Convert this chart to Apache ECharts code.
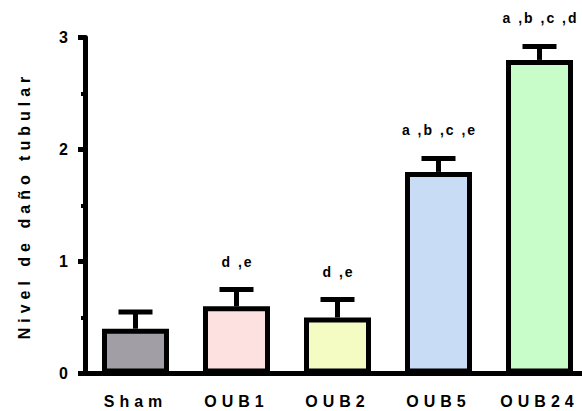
<!DOCTYPE html>
<html>
<head>
<meta charset="utf-8">
<script src="https://cdn.jsdelivr.net/npm/echarts@6/dist/echarts.min.js"></script>
<style>
  html, body { margin: 0; padding: 0; background: #fff; }
  #chart { width: 582px; height: 411px; }
  /* tracked lettering for axis name and group labels */
  #chart text[style*="Arial"] { letter-spacing: 5px; }
  #chart text[style*="Helvetica"] { letter-spacing: 2px; }
</style>
</head>
<body>
<div id="chart"></div>
<script>
// Tubular damage score per group (mean ± SEM)
const groups = ['Sham', 'OUB1', 'OUB2', 'OUB5', 'OUB24'];
const means = [0.40, 0.60, 0.50, 1.80, 2.80];
const sems = [0.15, 0.15, 0.16, 0.12, 0.12];
const letters = ['', 'd ,e', 'd ,e', 'a ,b ,c ,e', 'a ,b ,c ,d'];
const fills = ['#a19fa5', '#fde0e0', '#f4fcc4', '#c8dcf5', '#c8fcc8'];
const yTicks = [0, 1, 2, 3];

const chart = echarts.init(document.getElementById('chart'), null, { renderer: 'svg' });

const barData = means.map((v, i) => ({ value: v, itemStyle: { color: fills[i] } }));
const errData = means.map((v, i) => [i, v, sems[i], letters[i]]);

chart.setOption({
  animation: false,
  backgroundColor: '#fff',
  grid: { left: 85, top: 37.5, width: 505, height: 336, containLabel: false, outerBoundsMode: 'none' },
  xAxis: {
    type: 'category',
    data: groups,
    axisLine: { lineStyle: { color: '#000', width: 5 } },
    axisTick: { show: false },
    axisLabel: {
      color: '#000', fontWeight: 'bold', fontSize: 16,
      fontFamily: 'Liberation Sans, Arial', margin: 20
    }
  },
  yAxis: {
    type: 'value',
    min: yTicks[0], max: yTicks[yTicks.length - 1], interval: 1,
    name: 'Nivel de daño tubular',
    nameLocation: 'middle',
    nameGap: 53,
    nameTextStyle: { color: '#000', fontWeight: 'bold', fontSize: 16, fontFamily: 'Liberation Sans, Arial' },
    axisLine: { show: true, lineStyle: { color: '#000', width: 5 } },
    axisTick: { show: true, length: 7, lineStyle: { color: '#000', width: 5 } },
    minorTick: { show: true, splitNumber: 2, length: 4, lineStyle: { color: '#000', width: 4 } },
    splitLine: { show: false },
    axisLabel: {
      color: '#000', fontWeight: 'bold', fontSize: 16,
      fontFamily: 'Liberation Sans', margin: 17
    }
  },
  series: [
    {
      type: 'custom',
      z: 1,
      data: errData,
      renderItem: function (params, api) {
        const x = api.value(0), m = api.value(1), e = api.value(2);
        const base = api.coord([x, m]);
        const top = api.coord([x, m + e]);
        const txt = letters[params.dataIndex];
        const children = [
          { type: 'line', shape: { x1: base[0], y1: base[1], x2: top[0], y2: top[1] },
            style: { stroke: '#000', lineWidth: 5 } },
          { type: 'line', shape: { x1: top[0] - 17, y1: top[1], x2: top[0] + 17, y2: top[1] },
            style: { stroke: '#000', lineWidth: 5 } }
        ];
        if (txt) {
          children.push({
            type: 'text',
            style: {
              text: txt, x: top[0] + 1, y: top[1] - 28,
              fill: '#000', fontWeight: 'bold', fontSize: 14,
              fontFamily: 'Liberation Sans, Helvetica',
              align: 'center', verticalAlign: 'middle'
            }
          });
        }
        return { type: 'group', children: children };
      }
    },
    {
      type: 'bar',
      z: 2,
      data: barData,
      barWidth: 67,
      itemStyle: { borderColor: '#000', borderWidth: 5 }
    }
  ]
});
</script>
</body>
</html>
